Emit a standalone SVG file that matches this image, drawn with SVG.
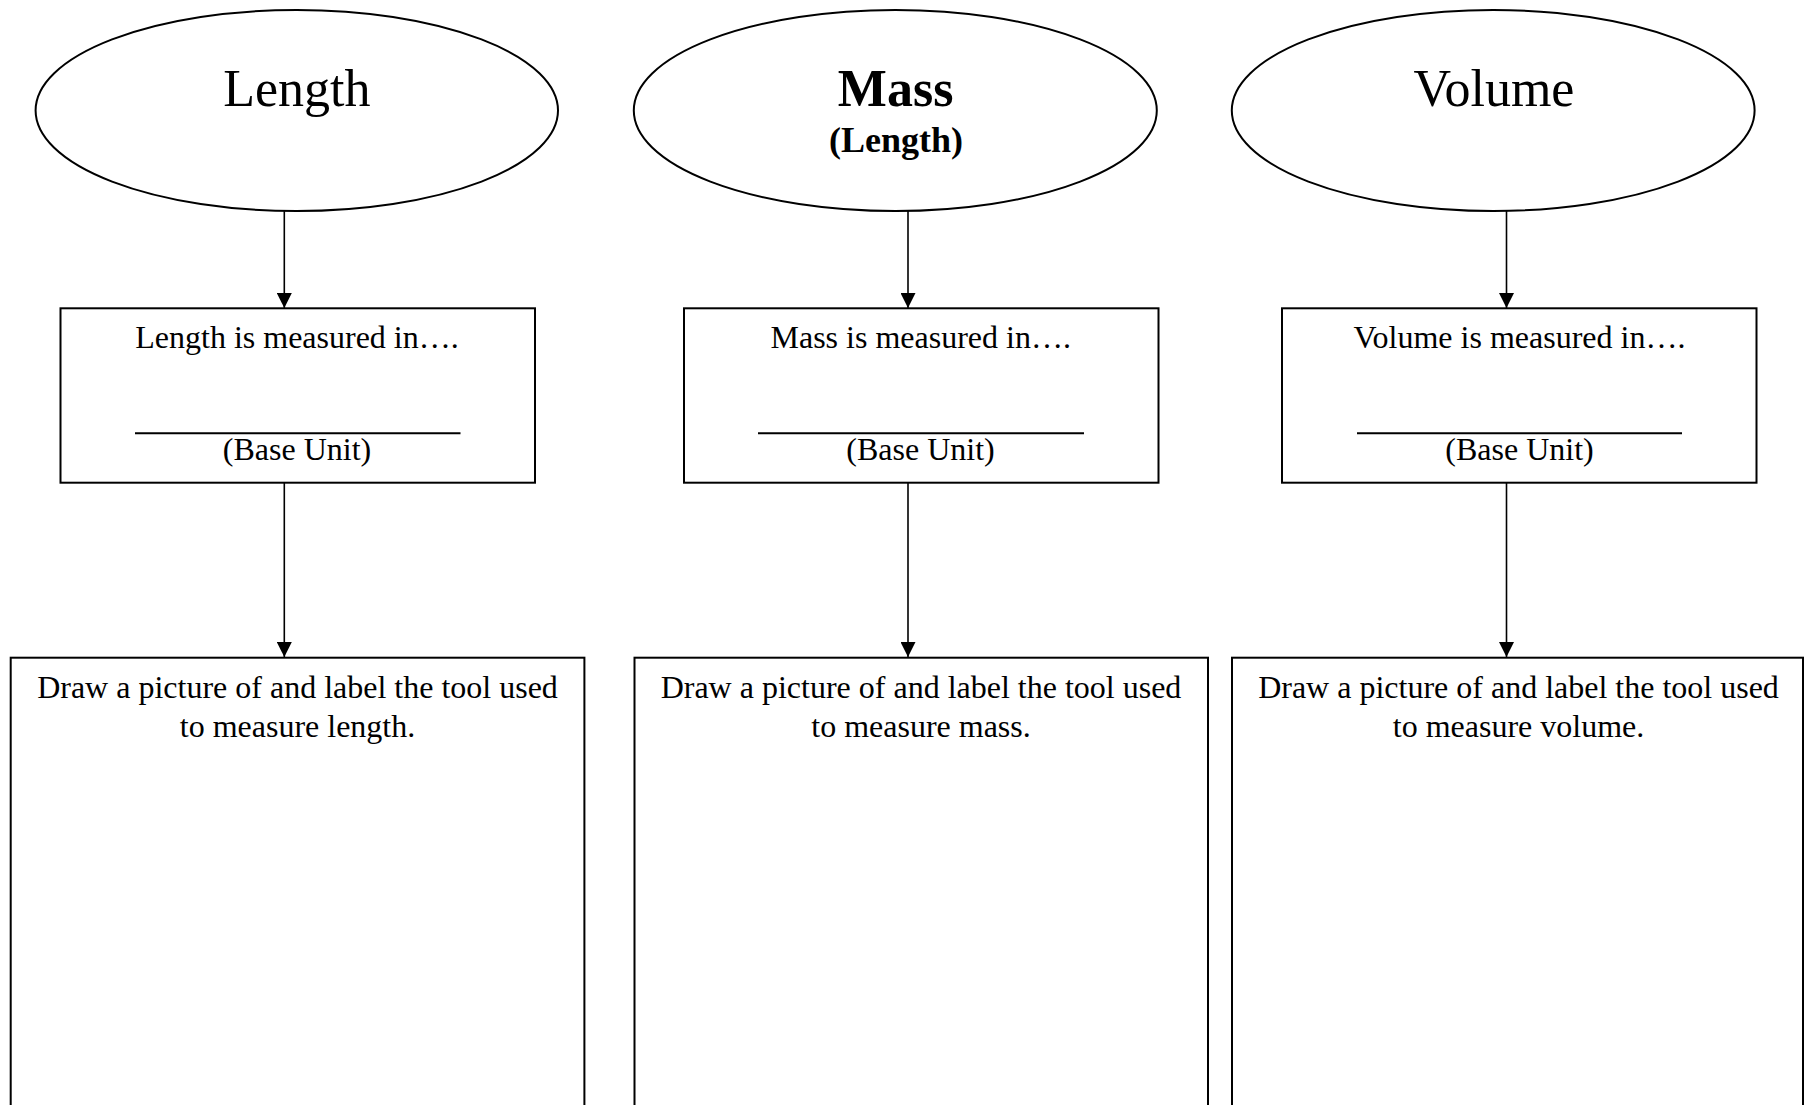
<svg xmlns="http://www.w3.org/2000/svg" width="1809" height="1105" viewBox="0 0 1809 1105">
<defs>
<style>
.shape{fill:#fff;stroke:#000;stroke-width:2}
.conn{stroke:#000;stroke-width:1.6;fill:none}
.t{font-family:"Liberation Serif","Times New Roman",serif;fill:#000;text-anchor:middle}
.title{font-size:52px}
.b{font-weight:bold}
.body{font-size:32px}
.rule{stroke:#000;stroke-width:2}
</style>
<marker id="ah" markerUnits="userSpaceOnUse" markerWidth="15" markerHeight="15" refX="15" refY="7.5" orient="auto" viewBox="0 0 15 15">
<path d="M0,0 L15,7.5 L0,15 z" fill="#000"/>
</marker>
</defs>
<rect width="1809" height="1105" fill="#fff"/>

<g id="connectors">
<line class="conn" x1="284.3" y1="210" x2="284.3" y2="308" marker-end="url(#ah)"/>
<line class="conn" x1="908" y1="210" x2="908" y2="308" marker-end="url(#ah)"/>
<line class="conn" x1="1506.5" y1="210" x2="1506.5" y2="308" marker-end="url(#ah)"/>
<line class="conn" x1="284.3" y1="483" x2="284.3" y2="657" marker-end="url(#ah)"/>
<line class="conn" x1="908" y1="483" x2="908" y2="657" marker-end="url(#ah)"/>
<line class="conn" x1="1506.5" y1="483" x2="1506.5" y2="657" marker-end="url(#ah)"/>
</g>

<g id="ellipse-length">
<ellipse class="shape" cx="296.8" cy="110.5" rx="261.2" ry="100.5"/>
<text class="t title" x="296.8" y="106">Length</text>
</g>
<g id="ellipse-mass">
<ellipse class="shape" cx="895.3" cy="110.5" rx="261.5" ry="100.5"/>
<text class="t title b" x="895.6" y="106">Mass</text>
<text class="t b" style="font-size:36px" x="896" y="152">(Length)</text>
</g>
<g id="ellipse-volume">
<ellipse class="shape" cx="1493.2" cy="110.5" rx="261.4" ry="100.5"/>
<text class="t title" x="1494" y="106">Volume</text>
</g>

<g id="box-length-unit">
<rect class="shape" x="60.5" y="308.3" width="474.5" height="174.4"/>
<text class="t body" x="297" y="348.3">Length is measured in….</text>
<line class="rule" x1="135" y1="433.3" x2="460.5" y2="433.3"/>
<text class="t body" x="297" y="460">(Base Unit)</text>
</g>
<g id="box-mass-unit">
<rect class="shape" x="684" y="308.3" width="474.5" height="174.4"/>
<text class="t body" x="920.7" y="348.3">Mass is measured in….</text>
<line class="rule" x1="758" y1="433.3" x2="1084" y2="433.3"/>
<text class="t body" x="920.5" y="460">(Base Unit)</text>
</g>
<g id="box-volume-unit">
<rect class="shape" x="1282" y="308.3" width="474.5" height="174.4"/>
<text class="t body" x="1519.5" y="348.3">Volume is measured in….</text>
<line class="rule" x1="1357" y1="433.3" x2="1682" y2="433.3"/>
<text class="t body" x="1519.5" y="460">(Base Unit)</text>
</g>

<g id="box-length-tool">
<rect class="shape" x="10.7" y="657.7" width="573.7" height="480"/>
<text class="t body" x="297.5" y="698.3">Draw a picture of and label the tool used</text>
<text class="t body" x="297.5" y="737.3">to measure length.</text>
</g>
<g id="box-mass-tool">
<rect class="shape" x="634.5" y="657.7" width="573.5" height="480"/>
<text class="t body" x="921" y="698.3">Draw a picture of and label the tool used</text>
<text class="t body" x="921" y="737.3">to measure mass.</text>
</g>
<g id="box-volume-tool">
<rect class="shape" x="1232" y="657.7" width="571" height="480"/>
<text class="t body" x="1518.5" y="698.3">Draw a picture of and label the tool used</text>
<text class="t body" x="1518.5" y="737.3">to measure volume.</text>
</g>
</svg>
